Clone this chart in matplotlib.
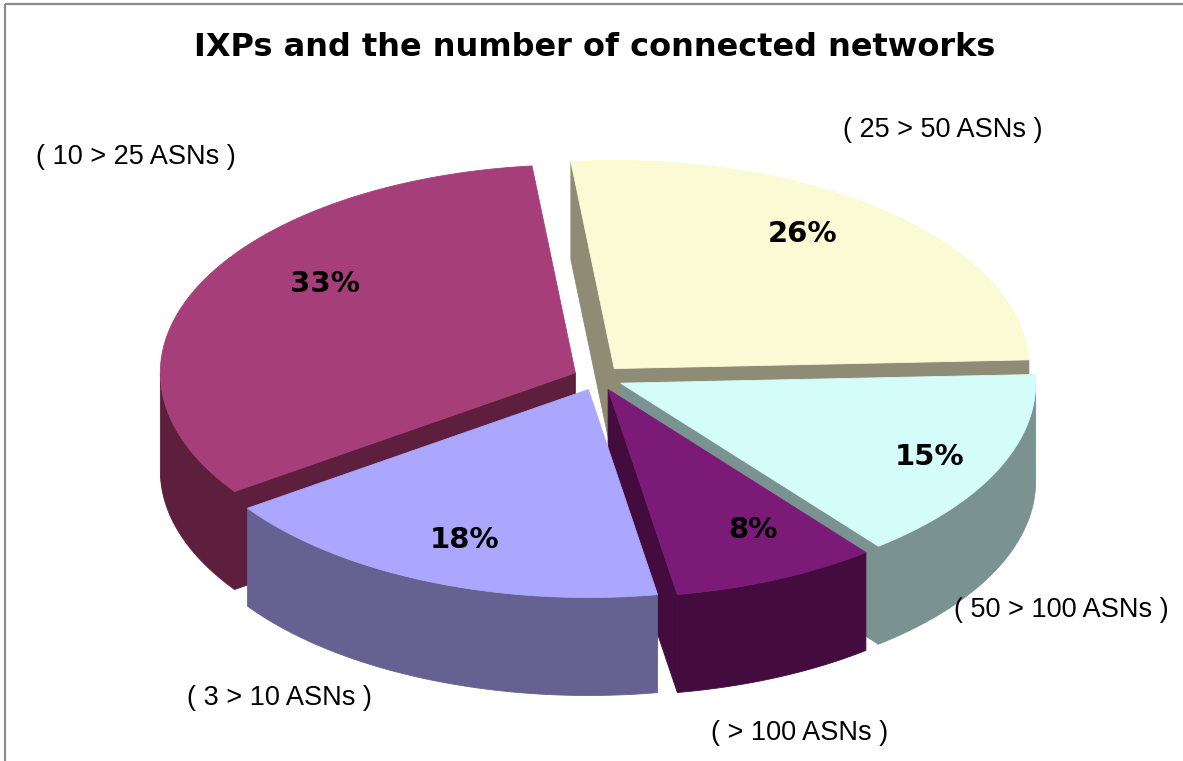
import matplotlib.pyplot as plt
import numpy as np
from matplotlib.patches import Polygon

# data, in Excel series order (pie runs clockwise from the first slice)
categories = ["( 3 > 10 ASNs )", "( 10 > 25 ASNs )", "( 25 > 50 ASNs )",
              "( 50 > 100 ASNs )", "( > 100 ASNs )"]
shares = [18, 33, 26, 15, 8]

top_colors = ["#aba7fe", "#a63e7a", "#fafad4", "#d4fdfa", "#7c1a78"]
side_colors = ["#656291", "#5e1f3e", "#8e8c74", "#7a9391", "#440b3e"]

# layout (pixels)
W, H = 1183, 761
cx, cy = 598, 378          # pie centre
ra, rb = 415, 208          # ellipse semi axes of the top face
depth = 98
explode = 0.06
first_angle = -80.4        # math angle where the first slice starts

name_pos = [(279, 698), (136, 157), (943, 130), (1061, 610), (800, 733)]
pct_pos = [(465, 540), (325, 284), (803, 234), (930, 457), (753, 530)]

fig = plt.figure(figsize=(W / 100, H / 100), dpi=100)
ax = fig.add_axes([0, 0, 1, 1])
ax.set_xlim(0, W)
ax.set_ylim(H, 0)
ax.axis('off')

# frame lines (only top and left show in the crop)
ax.plot([5.5, W + 5], [3.5, 3.5], color='#8c8c8c', lw=1.6, solid_capstyle='butt')
ax.plot([5.5, 5.5], [3.5, H + 5], color='#8c8c8c', lw=1.6, solid_capstyle='butt')


def rim(t, ox, oy, dz=0.0):
    t = np.radians(t)
    return np.column_stack([cx + ox + ra * np.cos(t),
                            cy + oy - rb * np.sin(t) + dz])


# slices as counter clockwise ranges (t1 < t2)
slices = []
end = first_angle
for i, v in enumerate(shares):
    span = 360.0 * v / sum(shares)
    t2, t1 = end, end - span
    end = t1
    mid = np.radians((t1 + t2) / 2)
    ox = explode * ra * np.cos(mid)
    oy = -explode * rb * np.sin(mid)
    slices.append((i, t1, t2, ox, oy, np.sin(mid)))

# back slices first
for i, t1, t2, ox, oy, s in sorted(slices, key=lambda q: -q[5]):
    kw = dict(closed=True, lw=0.6, zorder=2)
    apex = np.array([[cx + ox, cy + oy]])
    # outer wall, front half only
    for k in (-1, 0, 1):
        lo, hi = max(t1, -180 + 360 * k), min(t2, 360 * k)
        if hi > lo:
            ts = np.linspace(lo, hi, 80)
            pts = np.vstack([rim(ts, ox, oy), rim(ts[::-1], ox, oy, depth)])
            ax.add_patch(Polygon(pts, fc=side_colors[i], ec=side_colors[i], **kw))
    # cut faces that look toward the viewer
    for t, show in ((t1, np.cos(np.radians(t1)) > 0),
                    (t2, np.cos(np.radians(t2)) < 0)):
        if show:
            r0 = rim(np.array([t]), ox, oy)
            pts = np.vstack([apex, r0, r0 + [0, depth], apex + [0, depth]])
            ax.add_patch(Polygon(pts, fc=side_colors[i], ec=side_colors[i], **kw))
    ts = np.linspace(t1, t2, 200)
    pts = np.vstack([apex, rim(ts, ox, oy)])
    ax.add_patch(Polygon(pts, fc=top_colors[i], ec=top_colors[i], **kw))

for i, v in enumerate(shares):
    ax.text(*pct_pos[i], f"{v}%", ha='center', va='center', fontsize=21,
            fontweight='bold', family='DejaVu Sans', color='black', zorder=5)
    ax.text(*name_pos[i], categories[i], ha='center', va='center', fontsize=19.5,
            family='Liberation Sans', color='black', zorder=5)

ax.text(595, 47, "IXPs and the number of connected networks", ha='center',
        va='center', fontsize=23, fontweight='bold', family='DejaVu Sans')

fig.savefig('out.png', dpi=100)
